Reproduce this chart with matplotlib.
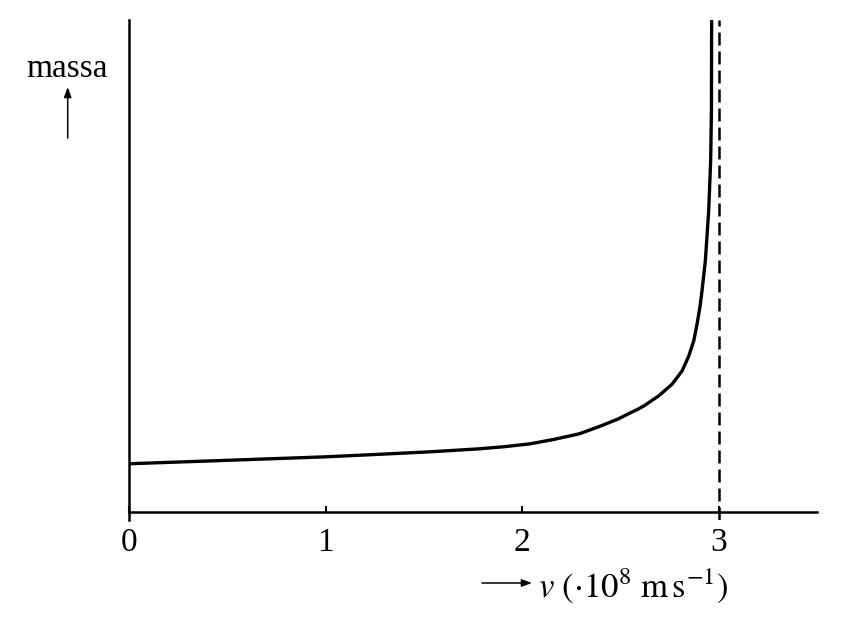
import matplotlib
matplotlib.use("Agg")
import matplotlib.pyplot as plt
from matplotlib.patches import FancyArrowPatch

plt.rcParams['font.family'] = ['Liberation Serif', 'DejaVu Serif']
plt.rcParams['mathtext.fontset'] = 'stix'

# values (v in 10^8 m/s, mass in units of rest mass)
v = [0.0, 0.49, 1.0, 1.27, 1.53, 1.78, 1.91, 2.04, 2.16, 2.29, 2.39, 2.49,
     2.54, 2.59, 2.62, 2.695, 2.763, 2.814, 2.848, 2.873, 2.890, 2.904,
     2.915, 2.932, 2.949, 2.959, 2.963, 2.964]
mass = [1.0, 1.07, 1.144, 1.196, 1.248, 1.31, 1.355, 1.414, 1.505, 1.622, 1.77,
        1.934, 2.038, 2.136, 2.205, 2.413, 2.656, 2.933, 3.245, 3.557, 3.910,
        4.249, 4.597, 5.220, 6.260, 7.300, 8.340, 10.23]
c_light = 3.0
xticks = [0, 1, 2, 3]

W, H = 843, 632
fig = plt.figure(figsize=(W / 100, H / 100), dpi=100)
ax = fig.add_axes([129 / W, (H - 520) / H, (817 - 129) / W, 500 / H])

ax.plot(v, mass, color='black', lw=2.4, solid_joinstyle='round', zorder=3)
ax.axvline(c_light, color='black', lw=1.8, linestyle=(0, (5.2, 2.4)))

ax.set_xlim(0, 3.5)
ax.set_ylim(-0.17, 10.23)

for side in ['top', 'right']:
    ax.spines[side].set_visible(False)
ax.spines['bottom'].set_position(('data', 0))
ax.spines['left'].set_linewidth(1.8)
ax.spines['bottom'].set_linewidth(1.8)

ax.set_xticks(xticks)
ax.set_xticklabels([str(t) for t in xticks])
ax.set_yticks([])
ax.tick_params(axis='x', direction='in', length=4.5, width=1.5,
               pad=11, labelsize=24)

arrow_style = '-|>,head_length=6,head_width=2.2'

# y label with arrow
fig.text(67.5 / W, (H - 77) / H, 'massa', fontsize=24, ha='center', va='baseline')
fig.patches.append(FancyArrowPatch(
    (67.7 / W, (H - 138) / H), (67.7 / W, (H - 87) / H),
    transform=fig.transFigure, arrowstyle=arrow_style,
    color='black', lw=1.1, shrinkA=0, shrinkB=0, mutation_scale=1))

# x label with arrow
fig.text(538 / W, (H - 597) / H, r'$v\ (\cdot 10^8\ \mathrm{m\,s^{-1}})$',
         fontsize=25, ha='left', va='baseline')
fig.patches.append(FancyArrowPatch(
    (482 / W, (H - 583) / H), (532 / W, (H - 583) / H),
    transform=fig.transFigure, arrowstyle=arrow_style,
    color='black', lw=1.1, shrinkA=0, shrinkB=0, mutation_scale=1))

fig.savefig('out.png', dpi=100)
